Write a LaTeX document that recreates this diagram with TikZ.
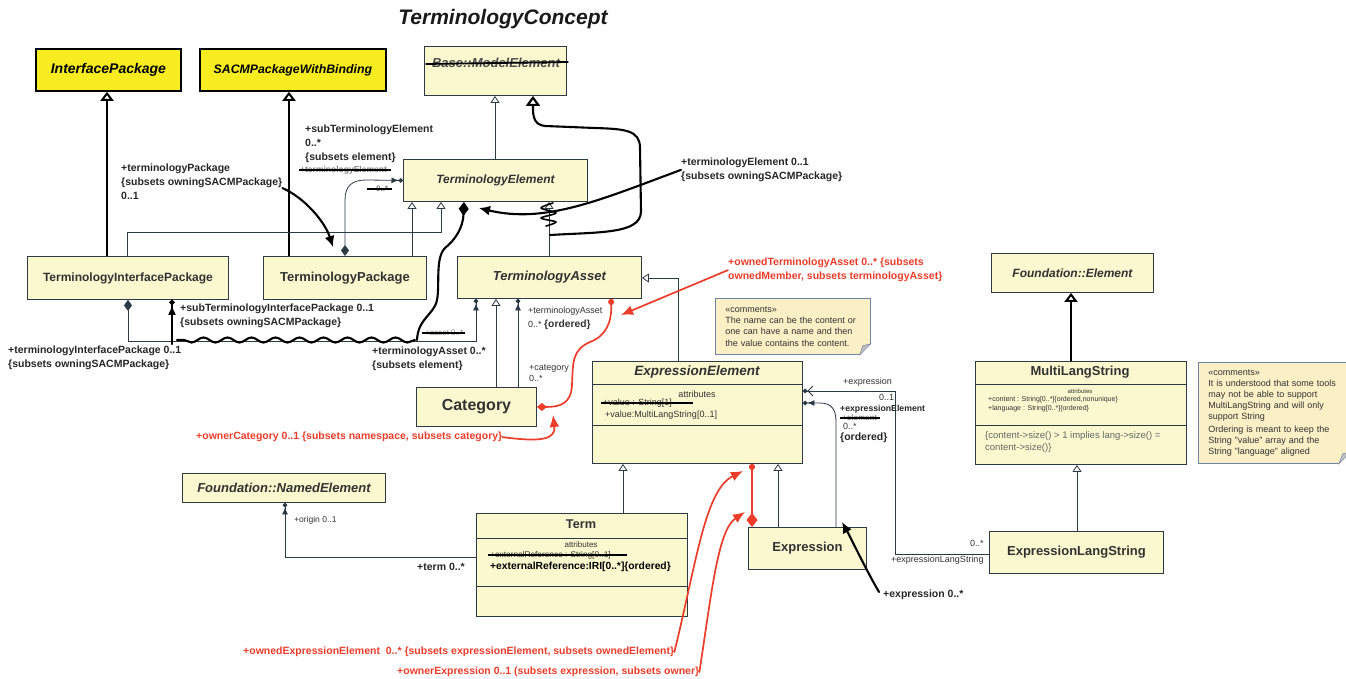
\documentclass[tikz,border=0pt]{standalone}
\usepackage{fontspec}
\setmainfont{Liberation Sans}
\usetikzlibrary{arrows.meta,decorations.pathmorphing}

\definecolor{clsfill}{RGB}{251,248,207}
\definecolor{clsline}{RGB}{44,58,68}
\definecolor{pkgfill}{RGB}{246,236,32}
\definecolor{cmtfill}{RGB}{251,239,198}
\definecolor{cmtline}{RGB}{112,132,168}
\definecolor{redink}{RGB}{236,60,42}
\definecolor{inkgray}{RGB}{50,50,50}

\newcommand{\fsz}[2]{\fontsize{#1}{#2}\selectfont}

\begin{document}
\begin{tikzpicture}[x=1pt,y=-1pt,
  cls/.style={draw=clsline,fill=clsfill,line width=0.9pt,anchor=north west,inner sep=0pt,text=inkgray},
  pkg/.style={draw=black,fill=pkgfill,line width=1.8pt,anchor=north west,inner sep=0pt,font=\bfseries\itshape\fsz{14}{16}},
  cmt/.style={draw=cmtline,fill=cmtfill,line width=0.8pt,anchor=north west,align=left,inner xsep=10pt,font=\fsz{9}{11.3},text=inkgray},
  cname/.style={font=\bfseries\fsz{13}{15}},
  aname/.style={font=\bfseries\itshape\fsz{13}{15}},
  attr/.style={font=\fsz{9}{11},text=inkgray,inner sep=0pt},
  lbl/.style={font=\bfseries\fsz{10.5}{14},align=left,anchor=north west,inner sep=0pt,text=black!85},
  tinylbl/.style={font=\fsz{9}{14},align=left,anchor=north west,inner sep=0pt,text=inkgray},
  redlbl/.style={font=\bfseries\fsz{10.5}{14},align=left,anchor=north west,inner sep=0pt,text=redink},
  gone/.style={font=\bfseries\fsz{8.5}{10},anchor=west,inner sep=0pt,text=black!50},
  gen/.style={draw=clsline,line width=0.8pt,-{Triangle[width=9pt,length=7pt,fill=white]}},
  biggen/.style={draw=black,line width=2pt,-{Triangle[width=13pt,length=9pt,fill=white]}},
  assoc/.style={draw=clsline,line width=0.8pt},
  hand/.style={draw=black,line width=2.1pt,line cap=round,line join=round},
  redl/.style={draw=redink,line width=1.7pt,line cap=round,line join=round},
  strike/.style={draw=black,line width=1.6pt},
  compart/.style={draw=clsline,line width=0.8pt}
]
\useasboundingbox (0,0) rectangle (1346,679);

%% title
\node[font=\bfseries\itshape\fsz{21}{24},text=black!90] (title) at (503,19) {TerminologyConcept};

%% packages
\node[pkg,minimum width=145pt,minimum height=42pt] (ipk) at (35,48) {InterfacePackage};
\node[pkg,minimum width=186pt,minimum height=42pt,font=\bfseries\itshape\fsz{12.3}{14}] (sacm) at (199,48) {SACMPackageWithBinding};

%% classes
\node[cls,minimum width=142pt,minimum height=49pt] (bme) at (424,46) {};
\node[aname,text=black!70,font=\bfseries\itshape\fsz{13}{15}] (bmename) at (496,63) {Base::ModelElement};
\draw[strike,line width=1.8pt] ([xshift=-3pt,yshift=-1pt]bmename.west) -- ([xshift=5pt,yshift=1pt]bmename.east);
\node[cls,aname,minimum width=184pt,minimum height=42pt,font=\bfseries\itshape\fsz{12}{14}] (te) at (403,159) {TerminologyElement};
\node[cls,cname,minimum width=201pt,minimum height=43pt,font=\bfseries\fsz{12}{14}] (tip) at (27,256) {TerminologyInterfacePackage};
\node[cls,cname,minimum width=163pt,minimum height=43pt] (tpk) at (263,256) {TerminologyPackage};
\node[cls,aname,minimum width=184pt,minimum height=42pt] (ta) at (457,256) {TerminologyAsset};
\node[cls,cname,minimum width=120pt,minimum height=39pt,font=\bfseries\fsz{16}{18}] (cat) at (416,387) {Category};
\node[cls,aname,minimum width=162pt,minimum height=39pt,font=\bfseries\itshape\fsz{12}{14}] (fe) at (991,253) {Foundation::Element};
\node[cls,aname,minimum width=203pt,minimum height=29pt] (ne) at (182,473) {Foundation::NamedElement};
\node[cls,cname,minimum width=118pt,minimum height=42pt] (expr) at (748,527) {Expression};
\node[cls,cname,minimum width=174pt,minimum height=42pt] (els) at (989,531) {ExpressionLangString};

%% ExpressionElement
\node[cls,minimum width=210pt,minimum height=102pt] (ee) at (592,361) {};
\node[aname,text=inkgray,font=\bfseries\itshape\fsz{13.5}{15}] (eename) at (697,372) {ExpressionElement};
\draw[compart] ([yshift=-23pt]ee.north west) -- ([yshift=-23pt]ee.north east);
\draw[compart] ([yshift=-64pt]ee.north west) -- ([yshift=-64pt]ee.north east);
\node[attr] (eeattr) at (697,394) {attributes};
\node[attr,anchor=west] (eeold) at (603,403) {+value : String[1]};
\draw[strike] ([xshift=-2pt]eeold.west) -- ++(92,0);
\node[attr,anchor=west] (eenew) at (605,415) {+value:MultiLangString[0..1]};

%% MultiLangString
\node[cls,minimum width=211pt,minimum height=103pt] (mls) at (975,361) {};
\node[cname,text=inkgray] (mlsname) at (1080,372) {MultiLangString};
\draw[compart] ([yshift=-23pt]mls.north west) -- ([yshift=-23pt]mls.north east);
\draw[compart] ([yshift=-64pt]mls.north west) -- ([yshift=-64pt]mls.north east);
\node[attr,font=\fsz{6}{7}] (mlsattr) at (1080,391) {attributes};
\node[attr,font=\fsz{7}{9},anchor=north west,align=left] (mlsvals) at (988,396) {+content : String[0..*]\{ordered,nonunique\}\\+language : String[0..*]\{ordered\}};
\node[attr,font=\fsz{9.5}{12},anchor=north west,align=left,text=black!60] (mlscons) at (985,431) {\{content->size() > 1 implies lang->size() =\\content->size()\}};

%% Term
\node[cls,minimum width=211pt,minimum height=103pt] (term) at (476,513) {};
\node[cname,text=inkgray,font=\bfseries\fsz{12.7}{14}] (termname) at (581,524) {Term};
\draw[compart] ([yshift=-25pt]term.north west) -- ([yshift=-25pt]term.north east);
\draw[compart] ([yshift=-73pt]term.north west) -- ([yshift=-73pt]term.north east);
\node[attr,font=\fsz{8}{10}] (termattr) at (581,545) {attributes};
\node[attr,anchor=west,font=\fsz{8.3}{10}] (termold) at (490,555) {+externalReference : String[0..1]};
\draw[strike] ([xshift=-2pt]termold.west) -- ++(139,0);
\node[attr,anchor=west,font=\bfseries\fsz{10.3}{12},text=black] (termnew) at (490,567) {+externalReference:IRI[0..*]\{ordered\}};

%% comments
\node[cmt,minimum height=56pt,text width=135pt] (cmt1) at (715,298) {«comments»\\The name can be the content or\\one can have a name and then\\the value contains the content.};
\fill[white] (cmt1.south east) -- ++(-11,0) -- ++(11,-11) -- cycle;
\filldraw[draw=cmtline,fill=black!25,line width=0.5pt] ([xshift=-11pt]cmt1.south east) -- ++(11,-11) -- ++(-8,2) -- cycle;
\node[cmt,minimum height=101pt,text width=132pt,font=\fsz{9}{11}] (cmt2) at (1198,362) {«comments»\\It is understood that some tools\\may not be able to support\\MultiLangString and will only\\support String\\[2pt]Ordering is meant to keep the\\String "value" array and the\\String "language" aligned};
\fill[white] (cmt2.south east) -- ++(-12,0) -- ++(12,-12) -- cycle;
\filldraw[draw=cmtline,fill=black!25,line width=0.5pt] ([xshift=-12pt]cmt2.south east) -- ++(12,-12) -- ++(-8,2) -- cycle;

%% generalizations
\draw[biggen] ([xshift=80pt]tip.north west) -- ([xshift=72pt]ipk.south west);
\draw[biggen] ([xshift=26pt]tpk.north west) -- ([xshift=90pt]sacm.south west);
\draw[biggen] ([xshift=96pt]mls.north west) -- ([xshift=80pt]fe.south west);
\draw[gen] ([xshift=100pt]tip.north west) -- ++(0,-24) -| ([xshift=38pt]te.south west);
\draw[gen] ([xshift=149pt]tpk.north west) -- ([xshift=9pt]te.south west);
\draw[gen] ([xshift=92pt]te.north west) -- ([xshift=71pt]bme.south west);
\draw[gen] ([xshift=92pt]ta.north west) -- ([xshift=146pt]te.south west);
\draw[gen] ([xshift=80pt]cat.north west) -- ([xshift=39pt]ta.south west);
\draw[gen] ([xshift=86pt]ee.north west) |- ([yshift=-22pt]ta.north east);
\draw[gen] ([xshift=147pt]term.north west) -- ([xshift=31pt]ee.south west);
\draw[gen] ([xshift=30pt]expr.north west) -- ([xshift=186pt]ee.south west);
\draw[gen] ([xshift=88pt]els.north west) -- ([xshift=102pt]mls.south west);

%% associations
\draw[assoc,{Diamond[length=11pt,width=8pt]}-{Latex[length=7pt,width=6pt] Circle[length=4.5pt]}] ([xshift=101pt]tip.south west) -- ++(0,41) -| ([xshift=19pt]ta.south west);
\draw[assoc,{Diamond[length=11pt,width=8pt]}-{Latex[length=7pt,width=6pt] Circle[length=4.5pt]}] ([xshift=82pt]tpk.north west) -- (345,200) .. controls (345,186) and (352,180) .. (366,180) -- (te.west);
\draw[assoc,-{Latex[length=7pt,width=6pt] Circle[length=4.5pt]}] ([xshift=102pt]cat.north west) -- ([xshift=61pt]ta.south west);
\draw[assoc,-{Latex[length=7pt,width=6pt] Circle[length=4.5pt]}] ([yshift=-44pt]term.north west) -| ([xshift=103pt]ne.south west);
\draw[assoc,{Circle[length=4.5pt] Straight Barb[length=5pt,width=10pt]}-] ([yshift=-30pt]ee.north east) -- (895,391) |- ([yshift=-23pt]els.north west);
\draw[assoc,{Circle[length=4.5pt] Latex[length=7pt,width=6pt]}-] ([yshift=-42pt]ee.north east) -- (820,403) .. controls (832,403) and (836,410) .. (836,422) -- ([xshift=88pt]expr.north west);

%% association end labels
\node[lbl] (lste) at (305,125) {+subTerminologyElement\\0..*\\[-0.5pt]\{subsets element\}};
\node[gone] (gte) at (300,170) {+terminologyElement};
\draw[strike] ([xshift=-1pt]gte.west) -- ([xshift=4pt]gte.east);
\node[gone,font=\bfseries\fsz{8}{10}] (gtem) at (376,189) {0..*};
\draw[strike] ([xshift=-9pt]gtem.west) -- ([xshift=4pt]gtem.east);
\node[lbl] (ltpk) at (121,164) {+terminologyPackage\\\{subsets owningSACMPackage\}\\0..1};
\node[lbl] (lte) at (681,158) {+terminologyElement 0..1\\[-0.5pt]\{subsets owningSACMPackage\}};
\node[lbl] (lstip) at (180,304) {+subTerminologyInterfacePackage 0..1\\\{subsets owningSACMPackage\}};
\node[lbl] (ltip) at (8,346) {+terminologyInterfacePackage 0..1\\\{subsets owningSACMPackage\}};
\node[lbl] (ltas) at (372,347) {+terminologyAsset 0..*\\\{subsets element\}};
\node[gone,font=\fsz{8}{10}] (gasset) at (425,333) {+asset 0..*};
\draw[strike] ([xshift=-3pt]gasset.west) -- ([xshift=2pt]gasset.east);
\node[tinylbl] (ltasr) at (528,307) {+terminologyAsset\\0..* {\bfseries\fsz{10.3}{14}\{ordered\}}};
\node[tinylbl,font=\fsz{9}{11.5}] (lcat) at (529,364) {+category\\0..*};
\node[tinylbl,font=\fsz{8.5}{10}] (lorigin) at (294,516) {+origin 0..1};
\node[lbl] (lterm) at (417,563) {+term 0..*};
\node[tinylbl] (lexp) at (843,378) {+expression};
\node[tinylbl] (lexp01) at (879,394) {0..1};
\node[lbl,font=\bfseries\fsz{8.7}{10}] (lexpel) at (840,405) {+expressionElement};
\node[gone,font=\bfseries\fsz{8}{10}] (gel) at (842,418) {+element};
\draw[strike] ([xshift=-2pt]gel.west) -- ([xshift=3pt]gel.east);
\node[tinylbl] (lexpst) at (843,423) {0..*};
\node[lbl] (lord) at (840,433) {\{ordered\}};
\node[tinylbl] (lels01) at (970,540) {0..*};
\node[tinylbl] (lelsn) at (891,556) {+expressionLangString};
\node[lbl] (lexpr) at (883,590) {+expression 0..*};

%% red notes
\node[redlbl] (lota) at (728,258) {+ownedTerminologyAsset 0..* \{subsets\\ownedMember, subsets terminologyAsset\}};
\node[redlbl] (lowc) at (196,432) {+ownerCategory 0..1 \{subsets namespace, subsets category\}};
\node[redlbl] (loee) at (243,647) {+ownedExpressionElement\ \ 0..* \{subsets expressionElement, subsets ownedElement\}};
\node[redlbl] (loexp) at (397,667) {+ownerExpression 0..1 (subsets expression, subsets owner\}};

%% hand-drawn additions
\coordinate (tebend) at (550,235);
\draw[hand,-{Triangle[width=14pt,length=10pt,fill=white]}] (tebend) .. controls (600,232) and (640,234) .. (641,212) -- (640,148) .. controls (640,130) and (625,129) .. (595,128) -- (545,126) .. controls (532,125) and (533,112) .. ([xshift=109pt]bme.south west);
\draw[hand,line width=1.6pt] plot[smooth] coordinates {(553,203) (541,208) (556,213) (541,218) (556,222) (546,226)};
\coordinate (tearr) at (479,208);
\draw[hand,-{Latex[length=11pt,width=10pt]}] (lte.west) .. controls (600,200) and (545,224) .. (tearr);
\draw[hand,{Diamond[length=14pt,width=10pt]}-] ([xshift=61pt]te.south west) .. controls (463,228) and (455,240) .. (445,248) .. controls (435,258) and (440,285) .. (437,300) .. controls (434,315) and (418,318) .. (417,340);
\draw[hand,decorate,decoration={snake,amplitude=2.5pt,segment length=24pt}] (415,340) -- (177,340);
\coordinate (wavyend) at (172,344);
\draw[hand,-{Latex[length=10pt,width=8pt] Circle[length=5pt]}] (wavyend) -- ([xshift=145pt]tip.south west);
\coordinate (tpkarr) at (333,247);
\draw[hand,-{Latex[length=11pt,width=10pt]}] ([yshift=-6pt]ltpk.east) .. controls (305,198) and (325,222) .. (tpkarr);
\coordinate (exarr) at (842,522);
\draw[hand,-{Latex[length=11pt,width=10pt]}] ([xshift=-4pt,yshift=-2pt]lexpr.north west) .. controls (865,568) and (852,540) .. (exarr);

%% red additions
\draw[redl,{Circle[length=6pt]}-{Diamond[length=10pt,width=8pt]}] ([xshift=154pt]ta.south west) .. controls (612,322) and (606,336) .. (590,342) .. controls (572,350) and (573,362) .. (572,385) .. controls (571,404) and (560,407) .. (cat.east);
\coordinate (otaarr) at (621,315);
\draw[redl,-{Latex[length=12pt,width=10pt]}] (lota.west) -- (otaarr);
\coordinate (owcarr) at (553,415);
\draw[redl,-{Latex[length=12pt,width=10pt]}] (lowc.east) .. controls (540,442) and (556,440) .. (owcarr);
\draw[redl,{Circle[length=6pt]}-{Diamond[length=14pt,width=11pt]}] ([xshift=160pt]ee.south west) -- ([xshift=4pt]expr.north west);
\coordinate (oeearr) at (743,471);
\draw[redl,-{Latex[length=12pt,width=10pt]}] (loee.east) .. controls (697,560) and (705,490) .. (oeearr);
\coordinate (oexarr) at (745,512);
\draw[redl,-{Latex[length=12pt,width=10pt]}] (loexp.east) .. controls (712,590) and (718,530) .. (oexarr);
\end{tikzpicture}
\end{document}
